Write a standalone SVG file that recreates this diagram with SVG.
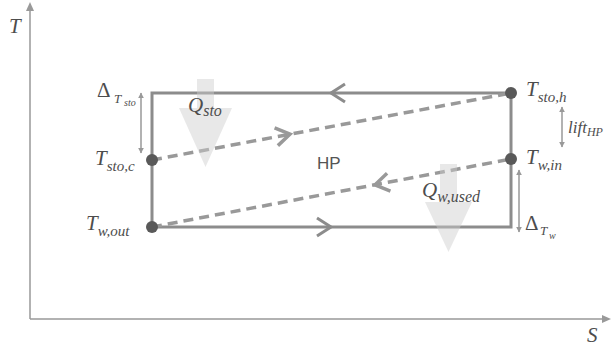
<svg xmlns="http://www.w3.org/2000/svg" width="612" height="347" viewBox="0 0 612 347">
<style>
.ax{stroke:#999;stroke-width:1.5;fill:none}
.cyc{stroke:#8c8c8c;stroke-width:3;fill:none}
.dash{stroke:#999;stroke-width:3.5;stroke-dasharray:10 6;fill:none}
.chev{stroke:#8c8c8c;stroke-width:3;fill:none;stroke-linejoin:miter}
.dchev{stroke:#999;stroke-width:3.5;fill:none}
.dbl{stroke:#999;stroke-width:1.5;fill:none;marker-start:url(#ah);marker-end:url(#ah)}
.big{fill:#cbcbcb;fill-opacity:0.45}
.dot{fill:#595959}
.m{font-family:"Liberation Serif",serif;font-style:italic;fill:#4d4d4d}
.g{font-family:"Liberation Serif",serif;fill:#4d4d4d}
.s{font-family:"Liberation Sans",Arial,sans-serif;fill:#555}
</style>
<defs>
<marker id="ah" viewBox="0 0 10 10" refX="9" refY="5" markerWidth="6" markerHeight="6" orient="auto-start-reverse" markerUnits="userSpaceOnUse"><path d="M0,0 L10,5 L0,10 z" fill="#999"/></marker>
<path id="chv" d="M-14,-9 L0,0 L-14,9"/>
</defs>
<g id="axes">
<line class="ax" x1="30" y1="319" x2="30" y2="10"/>
<polygon points="30,2 26,11 34,11" fill="#999"/>
<line class="ax" x1="30" y1="319" x2="603" y2="319"/>
<polygon points="611,319 602,315 602,323" fill="#999"/>
<text class="m" x="9" y="33" font-size="21">T</text>
<text class="m" x="587" y="342" font-size="21">S</text>
</g>
<g id="connectors">
<rect class="cyc" x="152" y="93" width="359" height="134"/>
<use href="#chv" class="chev" transform="translate(331,93) rotate(180)"/>
<use href="#chv" class="chev" transform="translate(331,227)"/>
<line class="dash" x1="152" y1="160" x2="511" y2="93"/>
<line class="dash" x1="152" y1="227" x2="511" y2="159"/>
<use href="#chv" class="dchev" transform="translate(290,134.2) rotate(-10.57)"/>
<use href="#chv" class="dchev" transform="translate(375,184.8) rotate(169.27)"/>
<line class="dbl" x1="141" y1="93" x2="141" y2="153"/>
<line class="dbl" x1="562" y1="107" x2="562" y2="147"/>
<line class="dbl" x1="519" y1="170" x2="519" y2="232"/>
</g>
<g id="Qsto">
<polygon class="big" points="197,79 214,79 214,108 232,108 205.5,167 179,108 197,108"/>
<text class="m" x="188" y="112" font-size="21">Q<tspan font-size="16" dy="4">sto</tspan></text>
</g>
<g id="Qwused">
<polygon class="big" points="440,164 457,164 457,202 472,202 448.5,252 425,202 440,202"/>
<text class="m" x="422" y="197" font-size="21">Q<tspan font-size="16" dy="5">w,used</tspan></text>
</g>
<g id="HP"><text class="s" x="317" y="169" font-size="17">HP</text></g>
<g id="Tstoh"><circle class="dot" cx="511" cy="93" r="6"/><text class="m" x="526" y="96" font-size="21">T<tspan font-size="15" dy="6">sto,h</tspan></text></g>
<g id="Twin"><circle class="dot" cx="511" cy="159" r="6"/><text class="m" x="526" y="164" font-size="21">T<tspan font-size="15" dy="6">w,in</tspan></text></g>
<g id="Tstoc"><circle class="dot" cx="152" cy="160" r="6"/><text class="m" x="95" y="165" font-size="21">T<tspan font-size="15" dy="6">sto,c</tspan></text></g>
<g id="Twout"><circle class="dot" cx="152" cy="227" r="6"/><text class="m" x="86" y="230" font-size="21">T<tspan font-size="15" dy="6">w,out</tspan></text></g>
<g id="dTsto"><text class="g" x="97" y="97" font-size="21">Δ</text><text class="m" x="114" y="103" font-size="13">T</text><text class="m" x="124" y="106" font-size="10">sto</text></g>
<g id="liftHP"><text class="m" x="568" y="133" font-size="17">lift<tspan font-size="12" dy="3">HP</tspan></text></g>
<g id="dTw"><text class="g" x="525" y="230" font-size="21">Δ</text><text class="m" x="540" y="235" font-size="13">T</text><text class="m" x="549" y="239" font-size="10">w</text></g>
</svg>
